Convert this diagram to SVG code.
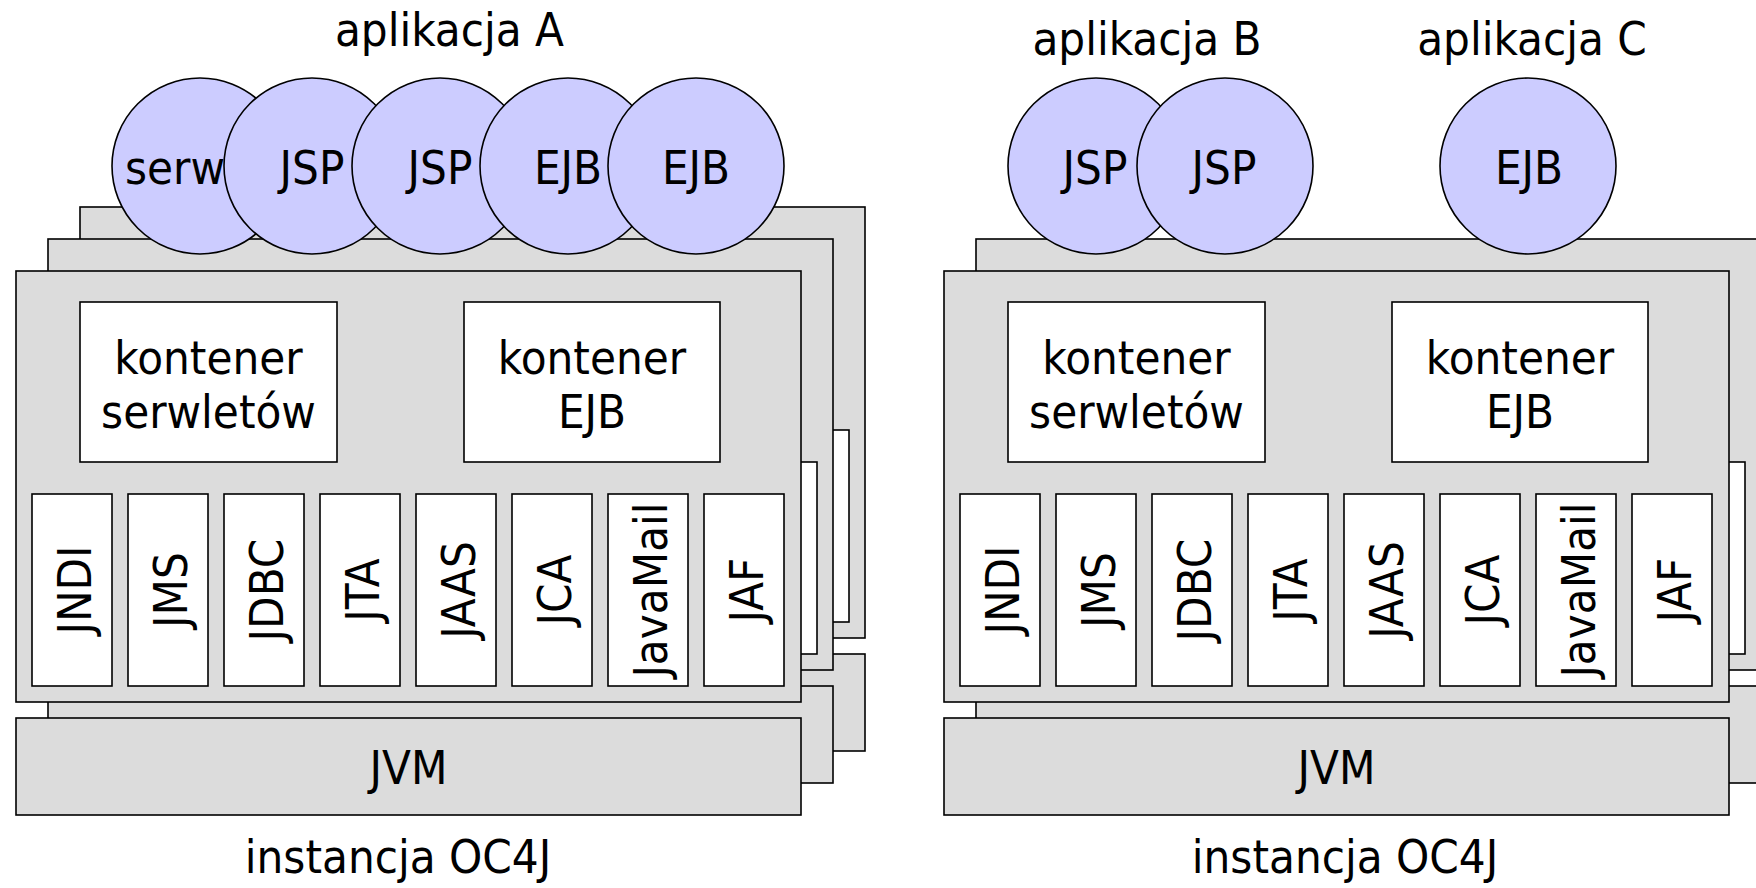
<svg xmlns="http://www.w3.org/2000/svg" width="1756" height="888" viewBox="0 0 1756 888">
<style>
text{font-family:"DejaVu Sans Condensed","DejaVu Sans",sans-serif;font-stretch:condensed;font-size:47px;fill:#000;text-anchor:middle}
.g{fill:#dcdcdc;stroke:#000;stroke-width:1.6}
.w{fill:#fff;stroke:#000;stroke-width:1.6}
.c{fill:#ccccff;stroke:#000;stroke-width:1.6}
</style>
<rect width="1756" height="888" fill="#fff"/>
<g id="instanceA">
  <g id="A-layer3">
    <rect class="g" x="80" y="207" width="785" height="431"/>
    <rect class="w" x="769" y="430" width="80" height="192"/>
    <rect class="g" x="80" y="654" width="785" height="97"/>
  </g>
  <g id="A-layer2">
    <rect class="g" x="48" y="239" width="785" height="431"/>
    <rect class="w" x="737" y="462" width="80" height="192"/>
    <rect class="g" x="48" y="686" width="785" height="97"/>
  </g>
  <g id="A-front">
    <rect class="g" x="16" y="271" width="785" height="431"/>
    <g id="A-servlet-container"><rect class="w" x="80" y="302" width="257" height="160"/><text x="208.5" y="374">kontener</text><text x="208.5" y="428">serwletów</text></g>
    <g id="A-ejb-container"><rect class="w" x="464" y="302" width="256" height="160"/><text x="592" y="374">kontener</text><text x="592" y="428">EJB</text></g>
    <g id="A-JNDI"><rect class="w" x="32" y="494" width="80" height="192"/><text transform="translate(90.5,590) rotate(-90)">JNDI</text></g>
    <g id="A-JMS"><rect class="w" x="128" y="494" width="80" height="192"/><text transform="translate(186.5,590) rotate(-90)">JMS</text></g>
    <g id="A-JDBC"><rect class="w" x="224" y="494" width="80" height="192"/><text transform="translate(282.5,590) rotate(-90)">JDBC</text></g>
    <g id="A-JTA"><rect class="w" x="320" y="494" width="80" height="192"/><text transform="translate(378.5,590) rotate(-90)">JTA</text></g>
    <g id="A-JAAS"><rect class="w" x="416" y="494" width="80" height="192"/><text transform="translate(474.5,590) rotate(-90)">JAAS</text></g>
    <g id="A-JCA"><rect class="w" x="512" y="494" width="80" height="192"/><text transform="translate(570.5,590) rotate(-90)">JCA</text></g>
    <g id="A-JavaMail"><rect class="w" x="608" y="494" width="80" height="192"/><text transform="translate(666.5,590) rotate(-90)">JavaMail</text></g>
    <g id="A-JAF"><rect class="w" x="704" y="494" width="80" height="192"/><text transform="translate(762.5,590) rotate(-90)">JAF</text></g>
    <g id="A-JVM"><rect class="g" x="16" y="718" width="785" height="97"/><text x="408.5" y="784">JVM</text></g>
  </g>
  <text id="A-label" x="398" y="873">instancja OC4J</text>
</g>
<g id="instanceB">
  <g id="B-layer2">
    <rect class="g" x="976" y="239" width="785" height="431"/>
    <rect class="w" x="1665" y="462" width="80" height="192"/>
    <rect class="g" x="976" y="686" width="785" height="97"/>
  </g>
  <g id="B-front">
    <rect class="g" x="944" y="271" width="785" height="431"/>
    <g id="B-servlet-container"><rect class="w" x="1008" y="302" width="257" height="160"/><text x="1136.5" y="374">kontener</text><text x="1136.5" y="428">serwletów</text></g>
    <g id="B-ejb-container"><rect class="w" x="1392" y="302" width="256" height="160"/><text x="1520" y="374">kontener</text><text x="1520" y="428">EJB</text></g>
    <g id="B-JNDI"><rect class="w" x="960" y="494" width="80" height="192"/><text transform="translate(1018.5,590) rotate(-90)">JNDI</text></g>
    <g id="B-JMS"><rect class="w" x="1056" y="494" width="80" height="192"/><text transform="translate(1114.5,590) rotate(-90)">JMS</text></g>
    <g id="B-JDBC"><rect class="w" x="1152" y="494" width="80" height="192"/><text transform="translate(1210.5,590) rotate(-90)">JDBC</text></g>
    <g id="B-JTA"><rect class="w" x="1248" y="494" width="80" height="192"/><text transform="translate(1306.5,590) rotate(-90)">JTA</text></g>
    <g id="B-JAAS"><rect class="w" x="1344" y="494" width="80" height="192"/><text transform="translate(1402.5,590) rotate(-90)">JAAS</text></g>
    <g id="B-JCA"><rect class="w" x="1440" y="494" width="80" height="192"/><text transform="translate(1498.5,590) rotate(-90)">JCA</text></g>
    <g id="B-JavaMail"><rect class="w" x="1536" y="494" width="80" height="192"/><text transform="translate(1594.5,590) rotate(-90)">JavaMail</text></g>
    <g id="B-JAF"><rect class="w" x="1632" y="494" width="80" height="192"/><text transform="translate(1690.5,590) rotate(-90)">JAF</text></g>
    <g id="B-JVM"><rect class="g" x="944" y="718" width="785" height="97"/><text x="1336.5" y="784">JVM</text></g>
  </g>
  <text id="B-label" x="1345" y="873">instancja OC4J</text>
</g>
<g id="appA">
  <text x="449.5" y="46">aplikacja A</text>
  <g id="A-c1"><circle class="c" cx="200" cy="166" r="88"/><text x="125" y="184" style="text-anchor:start">serw</text></g>
  <g id="A-c2"><circle class="c" cx="312" cy="166" r="88"/><text x="312" y="184">JSP</text></g>
  <g id="A-c3"><circle class="c" cx="440" cy="166" r="88"/><text x="440" y="184">JSP</text></g>
  <g id="A-c4"><circle class="c" cx="568" cy="166" r="88"/><text x="568" y="184">EJB</text></g>
  <g id="A-c5"><circle class="c" cx="696" cy="166" r="88"/><text x="696" y="184">EJB</text></g>
</g>
<g id="appB">
  <text x="1147" y="55">aplikacja B</text>
  <g id="B-c1"><circle class="c" cx="1096" cy="166" r="88"/><text x="1095" y="184">JSP</text></g>
  <g id="B-c2"><circle class="c" cx="1225" cy="166" r="88"/><text x="1224" y="184">JSP</text></g>
</g>
<g id="appC">
  <text x="1532" y="55">aplikacja C</text>
  <g id="C-c1"><circle class="c" cx="1528" cy="166" r="88"/><text x="1529" y="184">EJB</text></g>
</g>
<g id="connectors"/>
</svg>
